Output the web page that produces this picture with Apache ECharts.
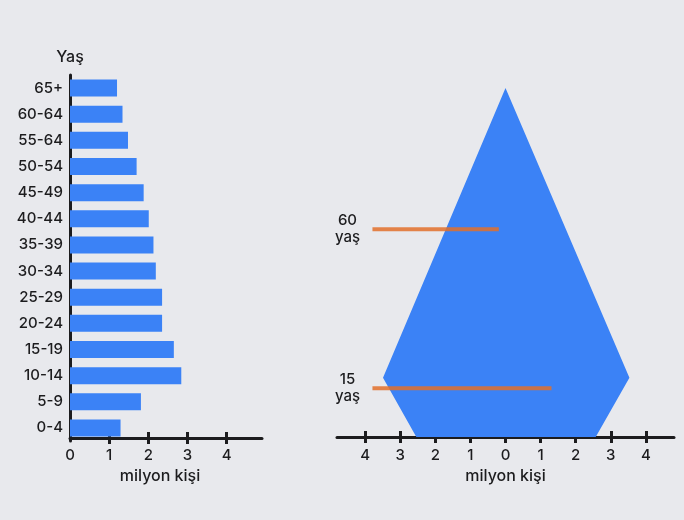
<!DOCTYPE html>
<html>
<head>
<meta charset="utf-8">
<script src="https://cdn.jsdelivr.net/npm/echarts@6/dist/echarts.min.js"></script>
<style>
  html, body { margin: 0; padding: 0; background: #e8e9ed; }
  #chart { width: 684px; height: 520px; }
</style>
</head>
<body>
<div id="chart"></div>
<script>
// sol grafik: yaş gruplarına göre nüfus (milyon kişi)
var ageGroups = ['0-4', '5-9', '10-14', '15-19', '20-24', '25-29', '30-34',
                 '35-39', '40-44', '45-49', '50-54', '55-64', '60-64', '65+'];
var population = [1.29, 1.81, 2.84, 2.65, 2.35, 2.35, 2.19,
                  2.13, 2.01, 1.88, 1.70, 1.48, 1.34, 1.20];
var leftTicks = [0, 1, 2, 3, 4];

// sag grafik: piramit (x = milyon kişi, y = yaş)
var pyramidX = [-2.54, -3.49, 0, 3.53, 2.57];
var pyramidAge = [0, 17, 100, 17, 0];
var rightTicks = [-4, -3, -2, -1, 0, 1, 2, 3, 4];

// turuncu yaş çizgileri
var line60X = [-3.79, -0.19];
var line15X = [-3.79, 1.31];
var markAges = [59.5, 14];
var markLabels = ['60', '15'];

var BLUE = '#3b82f6';
var ORANGE = '#e2702a';
var INK = '#1c1c1e';
var FONT = 'Inter, "Noto Sans", sans-serif';

var chart = echarts.init(document.getElementById('chart'));

var txt = { fontSize: 15, fontWeight: 500, color: INK, letterSpacing: 1, fontFamily: FONT };
var nameTxt = { fontSize: 16, fontWeight: 500, color: INK, letterSpacing: 1, fontFamily: FONT };

function ageLine(xs, age, text) {
  return {
    type: 'line',
    xAxisIndex: 2,
    yAxisIndex: 1,
    symbol: 'circle',
    symbolSize: 0,
    z: 5,
    lineStyle: { color: ORANGE, width: 4, opacity: 0.85 },
    data: [
      {
        value: [xs[0], age],
        label: Object.assign({
          show: true,
          formatter: text + '\nyaş',
          position: 'left',
          distance: 25,
          align: 'center',
          verticalAlign: 'middle',
          lineHeight: 17
        }, txt)
      },
      [xs[1], age]
    ]
  };
}

var axisLineStyle = { color: INK, width: 3 };

var option = {
  backgroundColor: '#e8e9ed',
  animation: false,
  textStyle: { fontFamily: FONT },
  grid: [
    { left: 70, top: 75, width: 192, height: 366 },
    { left: 337, top: 88, width: 337, height: 349 }
  ],
  xAxis: [
    {
      gridIndex: 0, type: 'value', min: 0, max: 4.9, position: 'bottom', offset: -3,
      axisLine: { show: true, onZero: false, lineStyle: axisLineStyle },
      axisTick: { show: true, customValues: [1, 2, 3, 4], length: 6, lineStyle: axisLineStyle },
      axisLabel: Object.assign({ customValues: leftTicks, margin: 10 }, txt),
      splitLine: { show: false },
      name: 'milyon kişi', nameLocation: 'middle', nameGap: 29,
      nameTextStyle: Object.assign({ padding: [0, 12, 0, 0] }, nameTxt)
    },
    {
      gridIndex: 0, type: 'value', min: 0, max: 4.9, position: 'bottom', offset: -3,
      axisLine: { show: false, onZero: false },
      axisTick: { show: true, customValues: [1, 2, 3, 4], inside: true, length: 6, lineStyle: axisLineStyle },
      axisLabel: { show: false },
      splitLine: { show: false }
    },
    {
      gridIndex: 1, type: 'value', min: -4.8, max: 4.8, position: 'bottom',
      axisLine: { show: true, lineStyle: axisLineStyle },
      axisTick: { show: true, customValues: rightTicks, length: 6, lineStyle: axisLineStyle },
      axisLabel: Object.assign({
        customValues: rightTicks, margin: 11,
        formatter: function (v) { return Math.abs(v); }
      }, txt),
      splitLine: { show: false },
      name: 'milyon kişi', nameLocation: 'middle', nameGap: 30,
      nameTextStyle: nameTxt
    },
    {
      gridIndex: 1, type: 'value', min: -4.8, max: 4.8, position: 'bottom', offset: 0,
      axisLine: { show: false },
      axisTick: { show: true, customValues: rightTicks, inside: true, length: 6, lineStyle: axisLineStyle },
      axisLabel: { show: false },
      splitLine: { show: false }
    }
  ],
  yAxis: [
    {
      gridIndex: 0, type: 'category', data: ageGroups,
      axisLine: { show: true, lineStyle: axisLineStyle },
      axisTick: { show: false },
      axisLabel: Object.assign({ margin: 7 }, txt),
      name: 'Yaş', nameLocation: 'end', nameGap: 10,
      nameTextStyle: nameTxt
    },
    { gridIndex: 1, type: 'value', min: 0, max: 100, show: false }
  ],
  series: [
    {
      type: 'bar',
      xAxisIndex: 0,
      yAxisIndex: 0,
      data: population,
      barWidth: 17,
      itemStyle: { color: BLUE }
    },
    {
      type: 'line',
      xAxisIndex: 2,
      yAxisIndex: 1,
      symbol: 'none',
      lineStyle: { width: 0 },
      areaStyle: { color: BLUE, opacity: 1 },
      data: pyramidX.map(function (x, i) { return [x, pyramidAge[i]]; })
    },
    ageLine(line60X, markAges[0], markLabels[0]),
    ageLine(line15X, markAges[1], markLabels[1])
  ]
};

chart.setOption(option);
</script>
</body>
</html>
